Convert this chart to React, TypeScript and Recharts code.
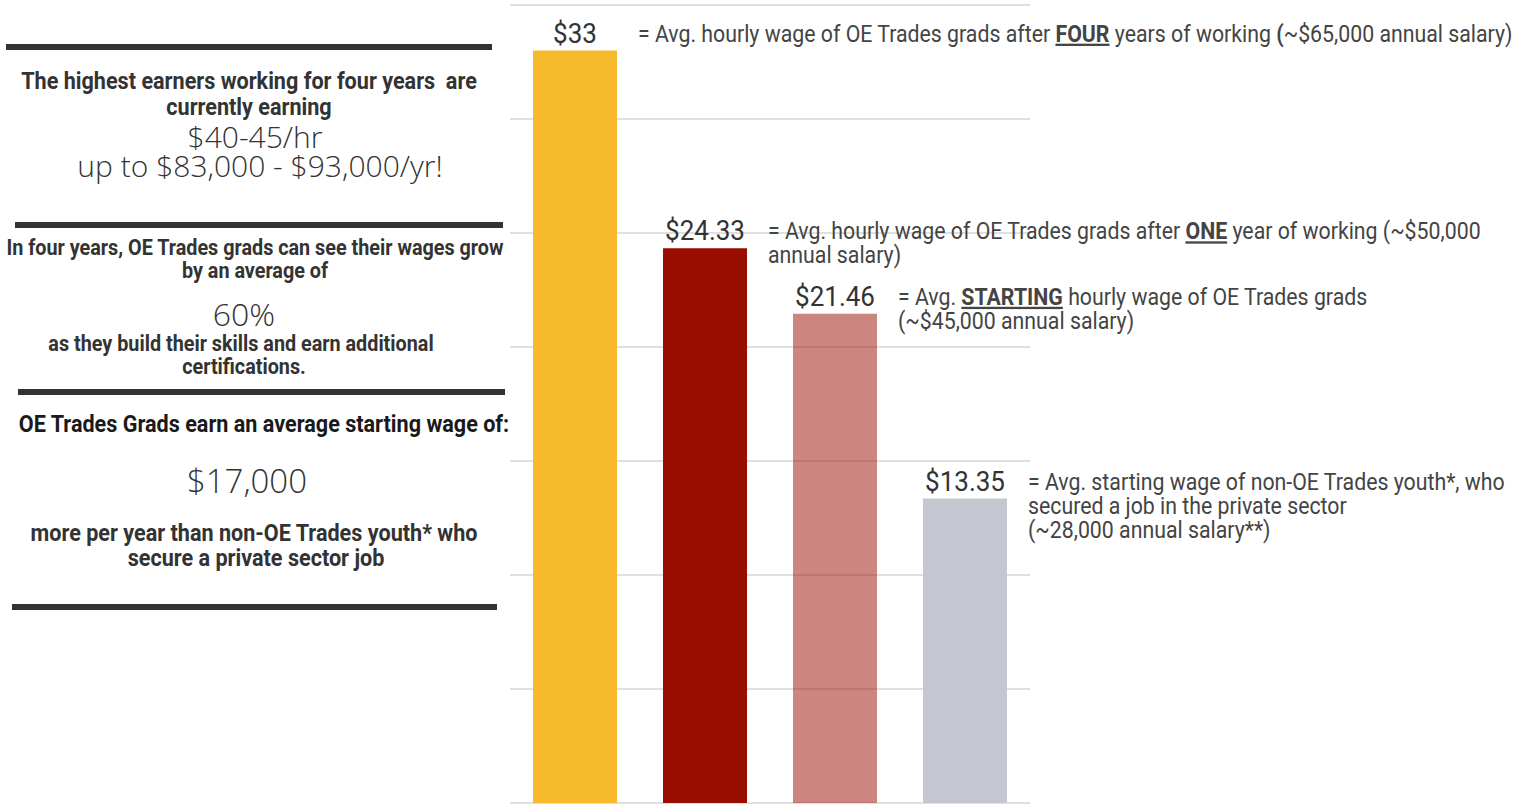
import React from 'react';
import { BarChart, Bar, XAxis, YAxis, CartesianGrid, Cell, LabelList } from 'recharts';

const categories = ['After four years', 'After one year', 'Starting', 'Non-OE Trades youth'];
const wages = [33, 24.33, 21.46, 13.35];
const valueLabels = ['$33', '$24.33', '$21.46', '$13.35'];
const barColors = ['#F7BA2C', '#990C00', '#990C00', '#C4C7CF'];
const barOpacities = [1, 1, 0.5, 1];
const yTicks = [0, 5, 10, 15, 20, 25, 30, 35];

type Seg = { t: string; b?: boolean; u?: boolean };
const annotations: Seg[][][] = [
  [[{ t: '= Avg. hourly wage of OE Trades grads after ' }, { t: 'FOUR', b: true, u: true }, { t: ' years of working ' }, { t: '(', b: true }, { t: '~$65,000 annual salary)' }]],
  [[{ t: '= Avg. hourly wage of OE Trades grads after ' }, { t: 'ONE', b: true, u: true }, { t: ' year of working (~$50,000' }], [{ t: 'annual salary)' }]],
  [[{ t: '= Avg. ' }, { t: 'STARTING', b: true, u: true }, { t: ' hourly wage of OE Trades grads' }], [{ t: '(~$45,000 annual salary)' }]],
  [[{ t: '= Avg. starting wage of non-OE Trades youth*, who' }], [{ t: 'secured a job in the private sector' }], [{ t: '(~28,000 annual salary**)' }]],
];

const data = categories.map((c, i) => ({ category: c, wage: wages[i] }));

const BarNote = (props: any) => {
  const { x, y, width, index } = props;
  const cx = Number(x) + Number(width) / 2;
  const ly = Number(y) - 8;
  const ax = Number(x) + Number(width) + 21;
  const lines = annotations[index] || [];
  return (
    <g>
      <text transform={`translate(${cx},${ly}) scale(0.93,1)`} textAnchor="middle" fontFamily="Roboto" fontSize={28} fill="#333">
        {valueLabels[index]}
      </text>
      {lines.map((line, li) => (
        <text key={li} transform={`translate(${ax},${ly - 1 + li * 24}) scale(0.926,1)`} fontFamily="Roboto" fontSize={23} fill="#444" style={{ whiteSpace: 'pre' }}>
          {line.map((s, si) => (
            <tspan key={si} fontWeight={s.b ? 700 : 400} style={s.u ? { textDecoration: 'underline' } : undefined}>{s.t}</tspan>
          ))}
        </text>
      ))}
    </g>
  );
};

const Cond = ({ x, y, children, size = 24, fill = '#333' }: any) => (
  <text transform={`translate(${x},${y}) scale(0.9,1)`} textAnchor="middle" fontFamily="Roboto" fontWeight={700} fontSize={size} fill={fill} style={{ whiteSpace: 'pre' }}>
    {children}
  </text>
);

const Big = ({ x, y, children, size = 30 }: any) => (
  <text x={x} y={y} textAnchor="middle" fontFamily="'Open Sans'" fontWeight={300} fontSize={size} fill="#333" style={{ whiteSpace: 'pre' }}>
    {children}
  </text>
);

const LeftPanel = () => (
  <svg width={520} height={805} style={{ position: 'absolute', left: 0, top: 0 }}>
    <rect x={6} y={44} width={486} height={6} fill="#333" />
    <Cond x={249} y={89}>The highest earners working for four years  are</Cond>
    <Cond x={249} y={115}>currently earning</Cond>
    <Big x={255} y={148}>$40-45/hr</Big>
    <Big x={260} y={177}>up to $83,000 - $93,000/yr!</Big>

    <rect x={15} y={222} width={488} height={6} fill="#333" />
    <Cond x={255} y={255} size={22}>In four years, OE Trades grads can see their wages grow</Cond>
    <Cond x={255} y={278} size={22}>by an average of</Cond>
    <Big x={244} y={326} size={32}>60%</Big>
    <Cond x={241} y={351} size={22}>as they build their skills and earn additional</Cond>
    <Cond x={244} y={374} size={22}>certifications.</Cond>

    <rect x={18} y={389} width={487} height={6} fill="#333" />
    <Cond x={264} y={432} fill="#1a1a1a">OE Trades Grads earn an average starting wage of:</Cond>
    <Big x={247} y={493} size={33}>$17,000</Big>
    <Cond x={254} y={541}>more per year than non-OE Trades youth* who</Cond>
    <Cond x={256} y={566}>secure a private sector job</Cond>

    <rect x={12} y={604} width={485} height={6} fill="#333" />
  </svg>
);

export default function App() {
  return (
    <div style={{ position: 'absolute', left: 0, top: 0, width: 1531, height: 805, background: '#fff' }}>
      <BarChart width={1531} height={805} data={data} margin={{ top: 5, right: 501, bottom: 2, left: 510 }}>
        <CartesianGrid vertical={false} stroke="#e0e0e0" strokeWidth={2} />
        <XAxis dataKey="category" hide />
        <YAxis hide domain={[0, 35]} ticks={yTicks} />
        <Bar dataKey="wage" barSize={84} isAnimationActive={false}>
          {data.map((d, i) => (
            <Cell key={i} fill={barColors[i]} fillOpacity={barOpacities[i]} />
          ))}
          <LabelList dataKey="wage" content={BarNote} />
        </Bar>
      </BarChart>
      <LeftPanel />
    </div>
  );
}
